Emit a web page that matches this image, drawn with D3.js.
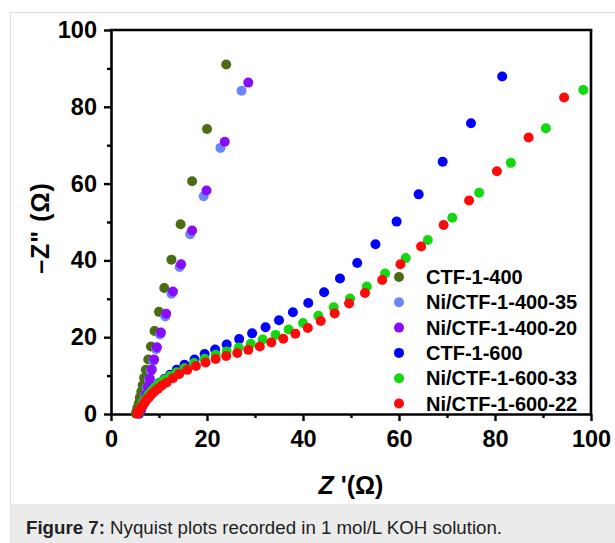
<!DOCTYPE html>
<html>
<head>
<meta charset="utf-8">
<script src="https://cdn.jsdelivr.net/npm/d3@7"></script>
<style>
  body { margin: 0; background: #fff; }
  text { font-family: "Liberation Sans", Arial, Helvetica, sans-serif; }
</style>
</head>
<body>
<svg id="chart" width="615" height="543"></svg>
<script>
var seriesNames = ["CTF-1-400", "Ni/CTF-1-400-35", "Ni/CTF-1-400-20", "CTF-1-600", "Ni/CTF-1-600-33", "Ni/CTF-1-600-22"];
var seriesColors = ["#4b6b14", "#6b84ff", "#8a0cff", "#0000ff", "#12d812", "#ff0a0a"];

// [Z', -Z'']
var ctf400 = [[5.2,0.1],[5.3,0.6],[5.5,1.6],[5.8,2.8],[6.0,4.2],[6.3,5.8],[6.6,7.5],[6.9,9.4],[7.27,11.5],[7.76,14.2],
  [8.33,17.6],[9.07,21.6],[10.0,26.6],[11.1,32.8],[12.6,40.2],[14.5,49.4],[16.9,60.6],[20.0,74.2],[24.0,91.0]];
var ni400_35 = [[5.9,0.1],[6.1,0.7],[6.4,1.8],[6.7,3.2],[7.1,4.9],[7.5,6.8],[7.9,8.9],[8.3,11.2],[8.8,13.8],[9.4,16.9],
  [10.2,20.7],[11.3,25.4],[12.6,31.3],[14.3,38.3],[16.5,46.8],[19.3,56.7],[22.8,69.3],[27.2,84.2]];
var ni400_20 = [[5.9,0.2],[6.2,0.8],[6.5,1.9],[6.9,3.3],[7.3,5.0],[7.7,7.0],[8.1,9.2],[8.5,11.6],[8.99,14.2],[9.56,17.4],
  [10.4,21.2],[11.5,26.1],[12.9,31.9],[14.6,39.0],[16.9,47.8],[19.9,58.2],[23.7,70.9],[28.6,86.3]];
var ctf600 = [[5.8,0.1],[6.0,0.7],[6.3,1.5],[6.6,2.4],[7.0,3.3],[7.4,4.2],[7.9,5.1],[8.5,6.1],[9.2,7.1],[10.1,8.1],
  [11.1,9.1],[12.3,10.2],[13.7,11.5],[15.3,12.8],[17.4,14.2],[19.5,15.6],[21.7,16.8],[24.1,18.1],[26.7,19.5],[29.4,21.0],
  [32.2,22.6],[35.0,24.4],[37.9,26.5],[41.1,28.9],[44.4,31.7],[47.7,35.3],[51.3,39.3],[55.1,44.2],[59.5,50.1],[64.1,57.2],
  [69.1,65.7],[75.0,75.7],[81.5,87.9]];
var ni600_33 = [[5.7,0.2],[5.9,0.8],[6.2,1.6],[6.5,2.5],[6.9,3.4],[7.4,4.3],[7.9,5.2],[8.5,6.1],[9.2,7.0],[10.1,8.0],
  [11.1,8.9],[12.3,9.9],[13.7,10.9],[15.3,11.9],[17.3,13.3],[19.5,14.4],[21.8,15.4],[24.1,16.3],[26.6,17.3],[29.1,18.3],
  [31.6,19.4],[34.3,20.6],[37.0,22.0],[40.0,23.7],[43.2,25.6],[46.4,27.8],[49.8,30.1],[53.3,33.2],[57.1,36.6],[61.4,40.6],
  [66.0,45.3],[71.1,51.1],[76.7,57.6],[83.3,65.4],[90.6,74.4],[98.4,84.4]];
var ni600_22 = [[5.5,0.1],[5.7,0.5],[6.0,1.1],[6.3,1.7],[6.7,2.4],[7.1,3.1],[7.5,3.8],[8.0,4.5],[8.5,5.2],[9.1,5.9],
  [9.8,6.6],[10.6,7.4],[11.6,8.2],[12.9,9.3],[14.2,10.4],[15.9,11.5],[17.7,12.5],[19.7,13.4],[21.8,14.3],[24.0,15.1],
  [26.3,15.9],[28.6,16.7],[31.0,17.6],[33.4,18.6],[35.9,19.6],[38.4,20.9],[41.0,22.4],[43.7,24.2],[46.6,26.2],[49.6,28.8],
  [52.9,31.5],[56.5,34.9],[60.3,39.0],[64.6,43.6],[69.3,49.2],[74.6,55.6],[80.4,63.2],[87.0,72.0],[94.4,82.4]];
var allSeries = [ctf400, ni400_35, ni400_20, ctf600, ni600_33, ni600_22];

var xTicks = [0, 20, 40, 60, 80, 100];
var yTicks = [0, 20, 40, 60, 80, 100];
var captionBold = "Figure 7:";
var captionText = " Nyquist plots recorded in 1 mol/L KOH solution.";

var svg = d3.select("#chart");

// outer frame and caption band
svg.append("rect")
  .attr("x", 10.5).attr("y", 12.5)
  .attr("width", 640).attr("height", 560)
  .attr("fill", "#fff")
  .attr("stroke", "#dedede");
svg.append("rect")
  .attr("x", 11).attr("y", 504)
  .attr("width", 604).attr("height", 39)
  .attr("fill", "#ebebeb");

var cap = svg.append("text")
  .attr("x", 26).attr("y", 534)
  .style("font-size", "18.7px")
  .attr("fill", "#222");
cap.append("tspan").style("font-weight", "bold").text(captionBold);
cap.append("tspan").text(captionText);

var x = d3.scaleLinear().domain([0, 100]).range([111, 591]);
var y = d3.scaleLinear().domain([0, 100]).range([414, 30]);

var tickFont = "23.5px";

var xAxis = svg.append("g")
  .attr("transform", "translate(0," + y(0) + ")")
  .call(d3.axisBottom(x).tickValues(d3.range(0, 101, 10)).tickSize(7).tickSizeOuter(0)
    .tickFormat(function(d) { return xTicks.indexOf(d) > -1 ? d : ""; }));
var yAxis = svg.append("g")
  .attr("transform", "translate(" + x(0) + ",0)")
  .call(d3.axisLeft(y).tickValues(d3.range(0, 101, 10)).tickSize(7).tickSizeOuter(0)
    .tickFormat(function(d) { return yTicks.indexOf(d) > -1 ? d : ""; }));

[xAxis, yAxis].forEach(function(ax) {
  ax.select(".domain").attr("stroke", "#000").attr("stroke-width", 2.6);
  ax.selectAll(".tick line").attr("stroke", "#000").attr("stroke-width", 2.4);
  ax.selectAll(".tick text")
    .attr("fill", "#000")
    .style("font-family", "'Liberation Sans', Arial, sans-serif")
    .style("font-size", tickFont)
    .style("font-weight", "bold");
});
// minor ticks are shorter
xAxis.selectAll(".tick").filter(function(d) { return xTicks.indexOf(d) < 0; })
  .select("line").attr("y2", 4);
yAxis.selectAll(".tick").filter(function(d) { return yTicks.indexOf(d) < 0; })
  .select("line").attr("x2", -4);
xAxis.selectAll(".tick text").attr("y", 16);
yAxis.selectAll(".tick text").attr("x", -14);

// top and right box lines
svg.append("line")
  .attr("x1", x(0) - 1.3).attr("x2", x(100) + 1.3)
  .attr("y1", y(100)).attr("y2", y(100))
  .attr("stroke", "#000").attr("stroke-width", 2.6);
svg.append("line")
  .attr("x1", x(100)).attr("x2", x(100))
  .attr("y1", y(100)).attr("y2", y(0))
  .attr("stroke", "#000").attr("stroke-width", 2.6);

// axis titles
var xTitle = svg.append("text")
  .attr("x", 351).attr("y", 494)
  .attr("text-anchor", "middle")
  .style("font-size", "25px")
  .style("font-weight", "bold");
xTitle.append("tspan").style("font-style", "italic").text("Z");
xTitle.append("tspan").text(" '(\u03A9)");

svg.append("text")
  .attr("transform", "translate(49,228) rotate(-90)")
  .attr("text-anchor", "middle")
  .style("font-size", "25px")
  .style("font-weight", "bold")
  .style("letter-spacing", "1px")
  .text("\u2013Z\" (\u03A9)");

// data points
allSeries.forEach(function(series, i) {
  svg.append("g")
    .selectAll("circle")
    .data(series)
    .enter().append("circle")
    .attr("cx", function(d) { return x(d[0]); })
    .attr("cy", function(d) { return y(d[1]); })
    .attr("r", 5)
    .attr("fill", seriesColors[i]);
});

// legend
var legend = svg.append("g").selectAll("g")
  .data(seriesNames)
  .enter().append("g")
  .attr("transform", function(d, i) { return "translate(399," + (277 + i * 25.3) + ")"; });
legend.append("circle")
  .attr("r", 5)
  .attr("fill", function(d, i) { return seriesColors[i]; });
legend.append("text")
  .attr("x", 27)
  .attr("dy", "0.35em")
  .style("font-size", "20px")
  .style("font-weight", "bold")
  .text(function(d) { return d; });
</script>
</body>
</html>
